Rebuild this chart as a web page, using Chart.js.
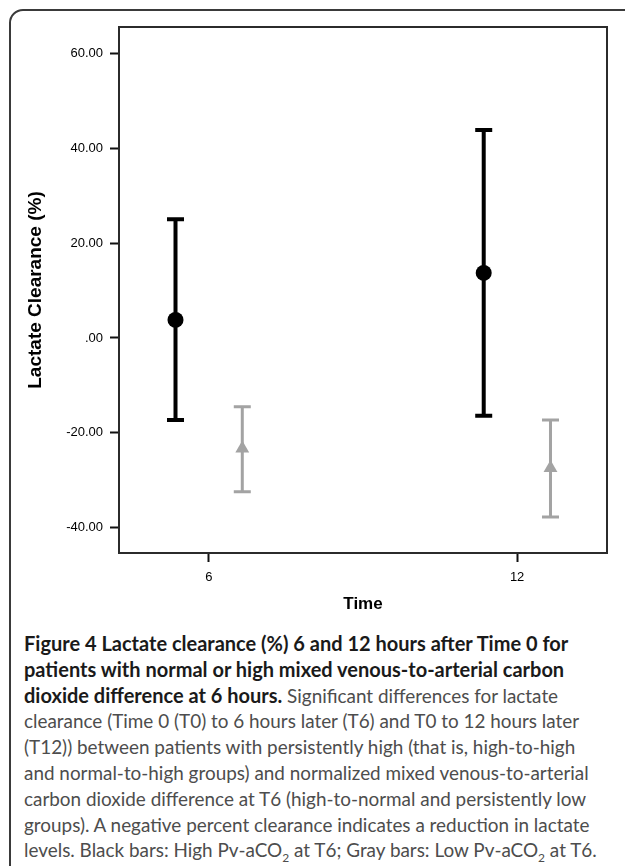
<!DOCTYPE html>
<html>
<head>
<meta charset="utf-8">
<script src="https://cdn.jsdelivr.net/npm/chart.js@4.4.1/dist/chart.umd.min.js"></script>
<style>
  html, body { margin: 0; padding: 0; background: #fff; }
  body { width: 625px; height: 866px; overflow: hidden; position: relative; }
  #frame {
    position: absolute; left: 9px; top: 9px; width: 700px; height: 900px;
    border: 2px solid #3a3a3a; border-radius: 14px; box-sizing: border-box;
  }
  #chartBox { position: absolute; left: 0; top: 0; width: 625px; height: 620px; }
  #caption {
    position: absolute; left: 24px; top: 631px;
    font-family: Lato, "Open Sans", sans-serif; font-size: 18.9px; line-height: 25.8px;
    color: #4d4d4d; white-space: nowrap;
  }
  #caption b { color: #1a1a1a; font-weight: 700; font-size: 20px; }
  #caption sub { font-size: 12px; line-height: 0; }
</style>
</head>
<body>
<div id="frame"></div>
<div id="chartBox"><canvas id="lactateChart" width="625" height="620"></canvas></div>
<div id="caption">
  <b>Figure 4 Lactate clearance (%) 6 and 12 hours after Time 0 for</b><br>
  <b>patients with normal or high mixed venous-to-arterial carbon</b><br>
  <b>dioxide difference at 6 hours.</b> Significant differences for lactate<br>
  clearance (Time 0 (T0) to 6 hours later (T6) and T0 to 12 hours later<br>
  (T12)) between patients with persistently high (that is, high-to-high<br>
  and normal-to-high groups) and normalized mixed venous-to-arterial<br>
  carbon dioxide difference at T6 (high-to-normal and persistently low<br>
  groups). A negative percent clearance indicates a reduction in lactate<br>
  levels. Black bars: High Pv-aCO<sub>2</sub> at T6; Gray bars: Low Pv-aCO<sub>2</sub> at T6.
</div>
<script>
  // hours after T0
  const timeCategories = [6, 12];

  // black: high Pv-aCO2 at T6 (mean and error bar ends)
  const highMean = [3.8, 13.7];
  const highLower = [-17.3, -16.4];
  const highUpper = [25.0, 43.8];

  // gray: low Pv-aCO2 at T6
  const lowMean = [-23.3, -27.4];
  const lowLower = [-32.4, -37.7];
  const lowUpper = [-14.5, -17.3];

  const yTickValues = [-40, -20, 0, 20, 40, 60];

  const groupOffset = 0.65; // side shift of the two groups around each time point
  const grayColor = "#a3a3a3";

  function toPoints(means, shift) {
    return timeCategories.map((t, i) => ({ x: t + shift, y: means[i] }));
  }

  const seriesBars = [
    { lower: highLower, upper: highUpper, shift: -groupOffset, color: "#000", width: 4 },
    { lower: lowLower, upper: lowUpper, shift: groupOffset, color: grayColor, width: 3 },
  ];

  // draws the whiskers with caps, plus the box around the plot
  const errorBarPlugin = {
    id: "errorBars",
    beforeDatasetsDraw(chart) {
      const ctx = chart.ctx;
      const xs = chart.scales.x;
      const ys = chart.scales.y;
      ctx.save();
      seriesBars.forEach((s) => {
        ctx.strokeStyle = s.color;
        ctx.lineWidth = s.width;
        ctx.lineCap = "butt";
        timeCategories.forEach((t, i) => {
          const px = xs.getPixelForValue(t + s.shift);
          const top = ys.getPixelForValue(s.upper[i]);
          const bot = ys.getPixelForValue(s.lower[i]);
          ctx.beginPath();
          ctx.moveTo(px, top);
          ctx.lineTo(px, bot);
          ctx.moveTo(px - 8.5, top);
          ctx.lineTo(px + 8.5, top);
          ctx.moveTo(px - 8.5, bot);
          ctx.lineTo(px + 8.5, bot);
          ctx.stroke();
        });
      });
      const a = chart.chartArea;
      ctx.strokeStyle = "#2b2b2b";
      ctx.lineWidth = 2;
      ctx.strokeRect(a.left, a.top, a.right - a.left, a.bottom - a.top);
      ctx.restore();
    },
  };

  const ctx = document.getElementById("lactateChart").getContext("2d");

  const lactateChart = new Chart(ctx, {
    type: "scatter",
    data: {
      datasets: [
        {
          label: "High Pv-aCO2 at T6",
          data: toPoints(highMean, -groupOffset),
          pointStyle: "circle",
          pointRadius: 8,
          backgroundColor: "#000",
          borderColor: "#000",
          borderWidth: 0,
          clip: false,
        },
        {
          label: "Low Pv-aCO2 at T6",
          data: toPoints(lowMean, groupOffset),
          pointStyle: "triangle",
          pointRadius: 8,
          backgroundColor: grayColor,
          borderColor: grayColor,
          borderWidth: 0,
          clip: false,
        },
      ],
    },
    options: {
      responsive: false,
      animation: false,
      layout: { padding: { top: 27, right: 18, left: 0, bottom: 0 } },
      plugins: {
        legend: { display: false },
        tooltip: { enabled: false },
      },
      scales: {
        x: {
          type: "linear",
          min: 4.25,
          max: 13.75,
          afterBuildTicks: (scale) => {
            scale.ticks = timeCategories.map((v) => ({ value: v }));
          },
          afterFit: (scale) => { scale.height = 67; },
          grid: {
            drawOnChartArea: false,
            drawTicks: true,
            tickLength: 9,
            tickWidth: 2,
            tickColor: "#111",
          },
          border: { display: true, width: 2, color: "#2b2b2b" },
          ticks: {
            padding: 8,
            color: "#000",
            font: { family: "'Liberation Sans', Arial, sans-serif", size: 13 },
            callback: (v) => String(v),
          },
          title: {
            display: true,
            text: "Time",
            color: "#000",
            font: { family: "'Liberation Sans', Arial, sans-serif", size: 17, weight: "bold" },
            padding: { top: 0, bottom: 5 },
          },
        },
        y: {
          min: -45.3,
          max: 65.5,
          afterBuildTicks: (scale) => {
            scale.ticks = yTickValues.map((v) => ({ value: v }));
          },
          afterFit: (scale) => { scale.width = 119; },
          grid: {
            drawOnChartArea: false,
            drawTicks: true,
            tickLength: 9,
            tickWidth: 2,
            tickColor: "#111",
          },
          border: { display: true, width: 2, color: "#2b2b2b" },
          ticks: {
            padding: 7,
            color: "#000",
            font: { family: "'Liberation Sans', Arial, sans-serif", size: 13 },
            callback: (v) => v.toFixed(2).replace(/^(-?)0\./, "$1."),
          },
          title: {
            display: true,
            text: "Lactate Clearance (%)",
            color: "#000",
            font: { family: "'Liberation Sans', Arial, sans-serif", size: 19, weight: "bold" },
            padding: { top: 24, bottom: 0 },
          },
        },
      },
    },
    plugins: [errorBarPlugin],
  });
</script>
</body>
</html>
